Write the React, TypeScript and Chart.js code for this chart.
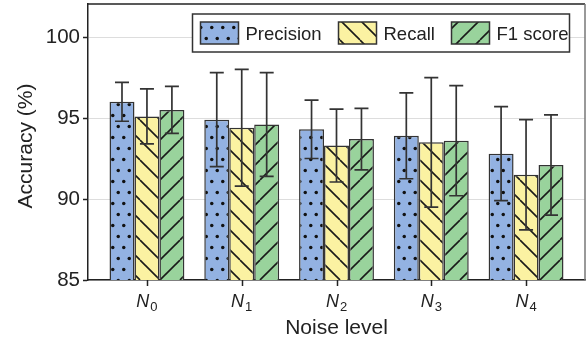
import React, { useEffect, useRef } from "react";
import { Chart, registerables } from "chart.js";

Chart.register(...registerables);

const categories = ["N0", "N1", "N2", "N3", "N4"];
const tickBase = "N";
const tickSubs = ["0", "1", "2", "3", "4"];
const seriesNames = ["Precision", "Recall", "F1 score"];
const precision = [96.0, 94.9, 94.3, 93.9, 92.8];
const precisionErr = [1.2, 2.9, 1.8, 2.65, 2.9];
const recall = [95.1, 94.4, 93.3, 93.5, 91.5];
const recallErr = [1.7, 3.6, 2.25, 4.0, 3.4];
const f1 = [95.5, 94.6, 93.7, 93.6, 92.1];
const f1Err = [1.45, 3.2, 1.9, 3.4, 3.1];
const yTicks = [85, 90, 95, 100];
const xTitle = "Noise level";
const yTitle = "Accuracy (%)";

const FONT = "'Liberation Sans', Arial, sans-serif";
const EDGE = "#333333";

function makePattern(kind: string, base: string): CanvasPattern | string {
  const c = document.createElement("canvas");
  let w = 20, h = 20;
  if (kind === "dots") { w = 11; h = 22; }
  c.width = w; c.height = h;
  const g = c.getContext("2d");
  if (!g) return base;
  g.fillStyle = base;
  g.fillRect(0, 0, w, h);
  g.fillStyle = "#111";
  g.strokeStyle = "#1a1a1a";
  g.lineWidth = 1.6;
  if (kind === "dots") {
    g.beginPath(); g.arc(2.75, 5.5, 1.75, 0, Math.PI * 2); g.fill();
    g.beginPath(); g.arc(8.25, 16.5, 1.75, 0, Math.PI * 2); g.fill();
  } else if (kind === "back") {
    for (let k = -1; k <= 1; k++) {
      g.beginPath(); g.moveTo(k * w, 0); g.lineTo(k * w + w, h); g.stroke();
    }
  } else {
    for (let k = -1; k <= 1; k++) {
      g.beginPath(); g.moveTo(k * w, h); g.lineTo(k * w + w, 0); g.stroke();
    }
  }
  return g.createPattern(c, "repeat") || base;
}

export default function App() {
  const ref = useRef<HTMLCanvasElement>(null);
  useEffect(() => {
    document.body.style.margin = "0";
    const canvas = ref.current;
    if (!canvas) return;
    const colors = ["#93b2e2", "#fbf2a2", "#99d39c"];
    const kinds = ["dots", "back", "fwd"];
    const values = [precision, recall, f1];
    const errs = [precisionErr, recallErr, f1Err];
    const patterns = colors.map((c, i) => makePattern(kinds[i], c));

    const extras = {
      id: "extras",
      afterDatasetsDraw(chart: any) {
        const ctx = chart.ctx;
        const ys = chart.scales.y;
        ctx.save();
        ctx.strokeStyle = EDGE;
        ctx.lineWidth = 1.7;
        chart.data.datasets.forEach((ds: any, di: number) => {
          const meta = chart.getDatasetMeta(di);
          meta.data.forEach((bar: any, i: number) => {
            const v = values[di][i];
            const e = errs[di][i];
            const x = bar.x;
            const y1 = ys.getPixelForValue(v + e);
            const y2 = ys.getPixelForValue(v - e);
            ctx.beginPath();
            ctx.moveTo(x, y1); ctx.lineTo(x, y2);
            ctx.moveTo(x - 7, y1); ctx.lineTo(x + 7, y1);
            ctx.moveTo(x - 7, y2); ctx.lineTo(x + 7, y2);
            ctx.stroke();
          });
        });
        ctx.restore();
      },
      afterDraw(chart: any) {
        const ctx = chart.ctx;
        const a = chart.chartArea;
        const xs = chart.scales.x;
        ctx.save();
        ctx.strokeStyle = "#222";
        ctx.lineWidth = 1.5;
        ctx.beginPath();
        ctx.moveTo(a.left, a.top); ctx.lineTo(a.right, a.top);
        ctx.stroke();
        // x tick marks
        categories.forEach((_, i) => {
          const px = Math.round(xs.getPixelForValue(i)) + 0.5;
          ctx.beginPath();
          ctx.moveTo(px, a.bottom); ctx.lineTo(px, a.bottom + 6);
          ctx.stroke();
        });
        ctx.strokeStyle = "#777";
        ctx.beginPath();
        ctx.moveTo(a.right, a.top); ctx.lineTo(a.right, a.bottom);
        ctx.stroke();
        ctx.fillStyle = "#222";
        ctx.textBaseline = "alphabetic";
        ctx.textAlign = "left";
        tickSubs.forEach((s, i) => {
          const px = xs.getPixelForValue(i);
          ctx.font = `italic 18px ${FONT}`;
          const wN = ctx.measureText(tickBase).width;
          ctx.font = `13px ${FONT}`;
          const wS = ctx.measureText(s).width;
          const start = px - (wN + wS + 1) / 2;
          ctx.font = `italic 18px ${FONT}`;
          ctx.fillText(tickBase, start, 307);
          ctx.font = `13px ${FONT}`;
          ctx.fillText(s, start + wN + 1, 311);
        });
        ctx.font = `21px ${FONT}`;
        ctx.textAlign = "center";
        ctx.fillText(xTitle, (a.left + a.right) / 2, 334);
        ctx.save();
        ctx.translate(32, (a.top + a.bottom) / 2 + 4);
        ctx.rotate(-Math.PI / 2);
        ctx.fillText(yTitle, 0, 0);
        ctx.restore();
        const lx = 192.5, ly = 14, lw = 377, lh = 38;
        ctx.fillStyle = "#ffffff";
        ctx.fillRect(lx, ly, lw, lh);
        ctx.strokeStyle = EDGE;
        ctx.lineWidth = 1.5;
        ctx.strokeRect(lx, ly, lw, lh);
        const patchX = [200.5, 338.5, 451.5];
        ctx.font = `18.5px ${FONT}`;
        ctx.textAlign = "left";
        seriesNames.forEach((name, i) => {
          ctx.fillStyle = patterns[i] as any;
          ctx.fillRect(patchX[i], 22, 38, 22);
          ctx.strokeStyle = EDGE;
          ctx.lineWidth = 1.5;
          ctx.strokeRect(patchX[i], 22, 38, 22);
          ctx.fillStyle = "#222";
          ctx.fillText(name, patchX[i] + 45, 40);
        });
        ctx.restore();
      },
    };

    const chart = new Chart(canvas, {
      type: "bar",
      data: {
        datasets: seriesNames.map((name, di) => ({
          label: name,
          data: values[di].map((v, i) => ({ x: i, y: v })),
          backgroundColor: patterns[di] as any,
          borderColor: EDGE,
          borderWidth: 1.5,
          borderSkipped: false,
          categoryPercentage: 0.79,
          barPercentage: 1.0,
        })),
      },
      options: {
        animation: false,
        responsive: false,
        devicePixelRatio: 1,
        layout: { padding: { top: 4, right: 1, left: 0, bottom: 0 } },
        plugins: { legend: { display: false }, tooltip: { enabled: false } },
        scales: {
          x: {
            type: "linear",
            min: -0.622,
            max: 4.622,
            offset: false,
            afterBuildTicks: (s: any) => {
              s.ticks = categories.map((_, i) => ({ value: i }));
            },
            afterFit: (s: any) => {
              s.height = 62;
              s.paddingLeft = 0; s.paddingRight = 0;
            },
            ticks: { display: false },
            grid: {
              offset: false,
              drawOnChartArea: false,
              drawTicks: false,
            },
            border: { display: true, color: "#222", width: 1.5 },
          },
          y: {
            min: 85,
            max: 102.04,
            afterBuildTicks: (s: any) => {
              s.ticks = yTicks.map((v) => ({ value: v }));
            },
            afterFit: (s: any) => {
              s.width = 88;
              s.paddingTop = 0; s.paddingBottom = 0;
            },
            ticks: {
              color: "#222",
              padding: 3,
              font: { family: FONT, size: 20.5 },
            },
            grid: {
              color: "#dddddd",
              lineWidth: 1,
              tickLength: 5,
              tickColor: "#222",
              tickWidth: 1.5,
            },
            border: { display: true, color: "#222", width: 1.5 },
          },
        },
      },
      plugins: [extras],
    } as any);
    return () => chart.destroy();
  }, []);
  return (
    <div style={{ width: 586, height: 342 }}>
      <canvas ref={ref} width={586} height={342} style={{ display: "block" }} />
    </div>
  );
}
